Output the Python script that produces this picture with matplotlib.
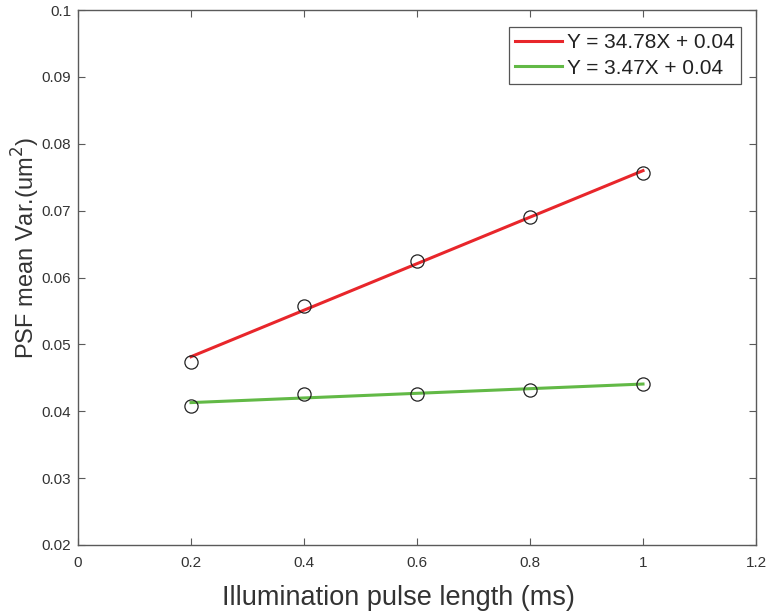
import matplotlib
matplotlib.use("Agg")
import matplotlib.pyplot as plt
import numpy as np

plt.rcParams['font.family'] = ['Liberation Sans', 'DejaVu Sans']

# Measured PSF mean variance at each illumination pulse length
pulse_ms = [0.2, 0.4, 0.6, 0.8, 1.0]
var_high = [0.0474, 0.0558, 0.0624, 0.0691, 0.0756]
var_low = [0.0408, 0.0426, 0.0426, 0.0432, 0.0441]

# Linear fits (slopes quoted in units of 1e-3 um^2 per ms)
slope_high = 34.78
slope_low = 3.47
intercept_high = 0.0412
intercept_low = 0.0406
slope_scale = 1e-3

x_ticks = [0, 0.2, 0.4, 0.6, 0.8, 1, 1.2]
y_ticks = [0.02, 0.03, 0.04, 0.05, 0.06, 0.07, 0.08, 0.09, 0.1]

red = '#E8262B'
green = '#62B946'
frame = '#5a5a5a'

fig = plt.figure(figsize=(7.66, 6.15), dpi=100)
ax = fig.add_axes([78 / 766, 1 - 545 / 615, (756 - 78) / 766, (545 - 10) / 615])

xfit = np.array([pulse_ms[0], pulse_ms[-1]])
ax.plot(xfit, slope_high * slope_scale * xfit + intercept_high, color=red, lw=2.2,
        label=f'Y = {slope_high:.2f}X + {intercept_high:.2f}', zorder=2)
ax.plot(xfit, slope_low * slope_scale * xfit + intercept_low, color=green, lw=2.2,
        label=f'Y = {slope_low:.2f}X + {intercept_low:.2f}', zorder=2)
ax.plot(pulse_ms, var_high, 'o', mfc='none', mec='#222222', ms=9.5, mew=0.9, zorder=3)
ax.plot(pulse_ms, var_low, 'o', mfc='none', mec='#222222', ms=9.5, mew=0.9, zorder=3)

ax.set_xlim(0, 1.2)
ax.set_ylim(0.02, 0.1)
ax.set_xticks(x_ticks)
ax.set_xticklabels(['0', '0.2', '0.4', '0.6', '0.8', '1', '1.2'])
ax.set_yticks(y_ticks)
ax.set_yticklabels(['0.02', '0.03', '0.04', '0.05', '0.06', '0.07', '0.08', '0.09', '0.1'])
ax.tick_params(direction='in', length=5, width=0.8, color=frame, labelcolor='#333333',
               labelsize=11, top=True, right=True)
ax.tick_params(axis='x', pad=8)
ax.tick_params(axis='y', pad=5)

for s in ax.spines.values():
    s.set_color(frame)
    s.set_linewidth(1.0)

ax.set_xlabel('Illumination pulse length (ms)', fontsize=19.5, color='#333333')
ax.xaxis.set_label_coords(0.4727, -0.075)
ax.set_ylabel('PSF mean Var.(um$^2$)', fontsize=17, color='#333333')
ax.yaxis.set_label_coords(-0.053, 0.555)

leg = ax.legend(loc='upper right', bbox_to_anchor=(741 / 766, 1 - 27 / 615),
                bbox_transform=fig.transFigure, fontsize=15, handlelength=2.25,
                handletextpad=0.24, borderpad=0.3, labelspacing=0.3,
                fancybox=False, framealpha=1, borderaxespad=0)
leg.get_frame().set_edgecolor('#555555')
leg.get_frame().set_linewidth(0.9)
for t in leg.get_texts():
    t.set_color('#222222')

fig.savefig('out.png', dpi=100, facecolor='white')
